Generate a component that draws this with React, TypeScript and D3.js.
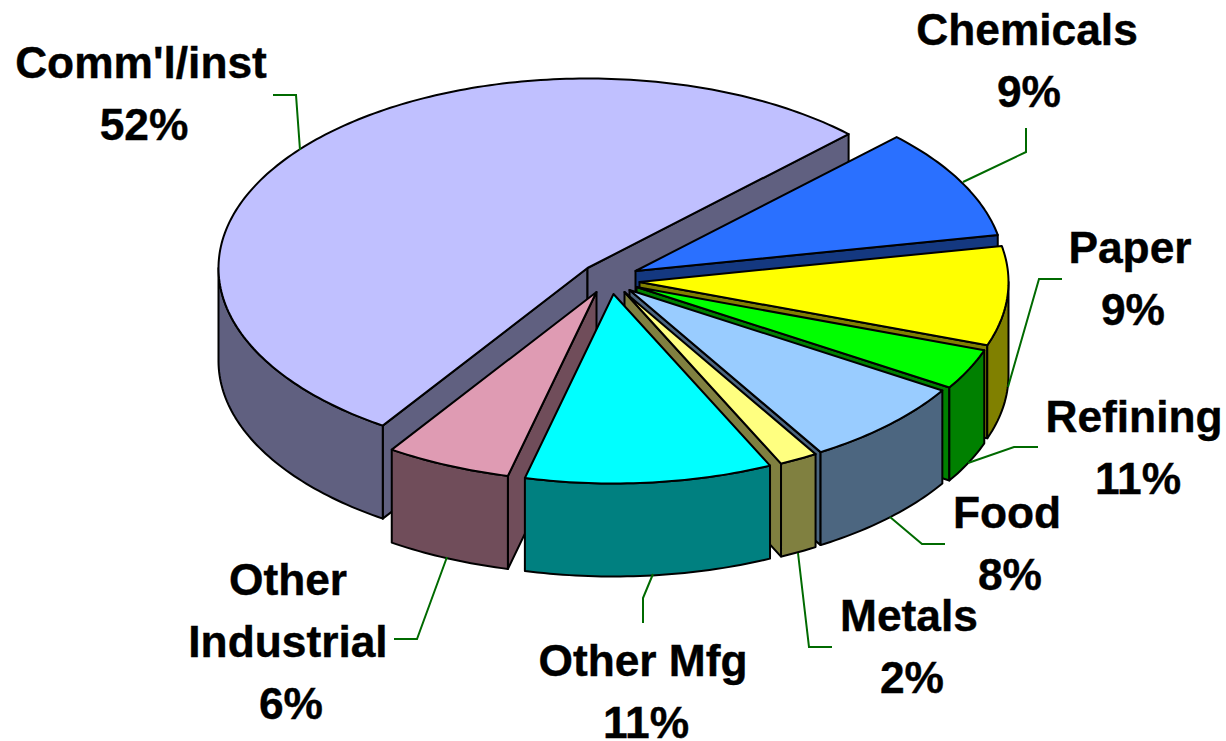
import React from "react";
import * as d3 from "d3";

const categories = ["Comm'l/inst", "Chemicals", "Paper", "Refining", "Food", "Metals", "Other Mfg", "Other Industrial"];
// Share of the drawn pie, as measured from the wedge angles.
const sliceShares = [53.14, 9.44, 8.47, 3.47, 7.44, 1.69, 10.83, 5.5];
const printedPercents = ["52%", "9%", "9%", "11%", "8%", "2%", "11%", "6%"];
const topColors = ["#C0C0FF", "#2A70FF", "#FFFF00", "#00FF00", "#99CCFF", "#FFFF80", "#00FFFF", "#DF9BB3"];
const wallColors = ["#606080", "#143880", "#808000", "#008000", "#4C6680", "#808040", "#008080", "#704D5A"];

// Explosion of each wedge away from the pie centre, in pixels.
const explodeX = [-22, 26, 30, 27, 20, 15, 4, -13];
const explodeY = [-11, -8, 3, 8, 11, 13, 15, 13];
// Painter's order, back to front.
const drawOrder = [0, 1, 2, 3, 4, 5, 7, 6];

const WIDTH = 1226;
const HEIGHT = 741;
const CX = 609.5;
const CY = 279;
const RX = 369;
const RY = 189.5;
const DEPTH = 93;
const START_DEG = 213.7;
const FONT_SIZE = 44.3;
const LINE_GAP = 62;

type Label = { lines: string[]; x: number[]; y: number };
const labelLayout: Label[] = [
  { lines: ["Comm'l/inst", "52%"], x: [141, 144], y: 78 },
  { lines: ["Chemicals", "9%"], x: [1027, 1029], y: 45 },
  { lines: ["Paper", "9%"], x: [1130, 1133], y: 263 },
  { lines: ["Refining", "11%"], x: [1134, 1138], y: 432 },
  { lines: ["Food", "8%"], x: [1007, 1010], y: 528 },
  { lines: ["Metals", "2%"], x: [909, 912], y: 631 },
  { lines: ["Other Mfg", "11%"], x: [643, 646], y: 676 },
  { lines: ["Other", "Industrial", "6%"], x: [288, 288, 291], y: 595 },
];

const leaderPaths: [number, number][][] = [
  [[273, 95], [296, 95], [300, 150]],
  [[1026, 128], [1026, 152], [963, 182]],
  [[1062, 279], [1039, 279], [1008, 387]],
  [[1038, 447], [1014, 447], [968, 463]],
  [[945, 544], [922, 544], [890, 517]],
  [[832, 647], [809, 647], [798, 553]],
  [[643, 623], [643, 598], [653, 574]],
  [[394, 639], [417, 639], [447, 557]],
];

const xScale = d3.scaleLinear().domain([-1, 1]).range([CX - RX, CX + RX]);
const yScale = d3.scaleLinear().domain([-1, 1]).range([CY - RY, CY + RY]);
const toPath = d3.line<[number, number]>().x((d) => d[0]).y((d) => d[1]);

const rad = (deg: number) => (deg * Math.PI) / 180;
const pie = d3
  .pie<number>()
  .sort(null)
  .startAngle(rad(START_DEG))
  .endAngle(rad(START_DEG + 360));
const arcs = pie(sliceShares);

function rimPoint(theta: number, i: number, drop = 0): [number, number] {
  return [xScale(Math.sin(theta)) + explodeX[i], yScale(-Math.cos(theta)) + explodeY[i] + drop];
}

function sampleAngles(a: number, b: number): number[] {
  const step = rad(1);
  return [...d3.range(a, b, step), b];
}

function Wedge({ i }: { i: number }) {
  // Wedges that wrapped past a full turn are brought back so the front test below is simple.
  const wrap = arcs[i].startAngle >= 2 * Math.PI ? 2 * Math.PI : 0;
  const a = arcs[i].startAngle - wrap;
  const b = arcs[i].endAngle - wrap;
  const apex: [number, number] = [CX + explodeX[i], CY + explodeY[i]];
  const apexLow: [number, number] = [apex[0], apex[1] + DEPTH];
  const radial = (t: number) =>
    toPath([apex, rimPoint(t, i), rimPoint(t, i, DEPTH), apexLow])! + "Z";
  const topPts: [number, number][] = [apex, ...sampleAngles(a, b).map((t) => rimPoint(t, i))];

  const frontA = Math.max(a, rad(90));
  const frontB = Math.min(b, rad(270));
  let outer: string | null = null;
  if (frontB > frontA) {
    const angles = sampleAngles(frontA, frontB);
    outer =
      toPath([
        ...angles.map((t) => rimPoint(t, i)),
        ...angles.slice().reverse().map((t) => rimPoint(t, i, DEPTH)),
      ])! + "Z";
  }
  const common = { stroke: "#000", strokeWidth: 2, strokeLinejoin: "round" as const };
  // A cut face shows only when it turns towards the viewer.
  const startFaceVisible = Math.sin(a) < 0;
  const endFaceVisible = Math.sin(b) > 0;
  return (
    <g>
      {startFaceVisible && <path d={radial(a)} fill={wallColors[i]} {...common} />}
      {endFaceVisible && <path d={radial(b)} fill={wallColors[i]} {...common} />}
      {outer && <path d={outer} fill={wallColors[i]} {...common} />}
      <path d={toPath(topPts)! + "Z"} fill={topColors[i]} {...common} />
    </g>
  );
}

export default function App() {
  return (
    <svg
      width={WIDTH}
      height={HEIGHT}
      viewBox={`0 0 ${WIDTH} ${HEIGHT}`}
      style={{ position: "absolute", left: 0, top: 0, background: "#fff" }}
    >
      {drawOrder.map((i) => (
        <Wedge key={categories[i]} i={i} />
      ))}
      {leaderPaths.map((p, i) => (
        <path key={i} d={toPath(p)!} fill="none" stroke="#006A00" strokeWidth={2} />
      ))}
      <g fontFamily="'Liberation Sans', Arial, sans-serif" fontWeight="bold" fontSize={FONT_SIZE} fill="#000" stroke="#000" strokeWidth={0.4} textAnchor="middle">
        {labelLayout.map((l, i) => {
          const rows = i === 7 ? l.lines : [categories[i], printedPercents[i]];
          return rows.map((row, j) => (
            <text key={`${i}-${j}`} x={l.x[j]} y={l.y + j * LINE_GAP}>
              {row}
            </text>
          ));
        })}
      </g>
    </svg>
  );
}
